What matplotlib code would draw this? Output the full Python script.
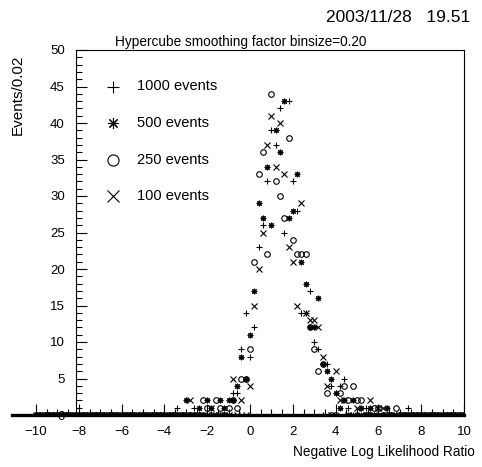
import numpy as np
import matplotlib.pyplot as plt
from matplotlib.ticker import MultipleLocator, FixedLocator

plt.rcParams['font.family'] = ['Liberation Sans', 'DejaVu Sans']

# histogram binning: binsize 0.2 between -10 and 10
bin_centres = np.round(np.arange(-50, 51) * 0.2, 1)

# non-empty bins (everything else is 0)
x_1000 = [-3.4, -2.6, -0.8, -0.6, -0.4, -0.2, 0.0, 0.2, 0.4, 0.6,
          0.8, 1.0, 1.2, 1.4, 1.6, 1.8, 2.0, 2.2, 2.4, 2.6,
          2.8, 3.0, 3.2, 3.6, 3.8, 4.0, 4.2, 4.4, 4.6, 5.4, 7.4]
y_1000 = [1, 1, 3, 3, 9, 14, 8, 12, 23, 26,
          32, 39, 37, 42, 25, 43, 32, 28, 14, 14,
          17, 10, 9, 7, 4, 3, 4, 5, 1, 1, 1]

x_500 = [-3.0, -2.4, -2.0, -1.8, -1.4, -1.2, -1.0, -0.8, -0.6, -0.4,
         -0.2, 0.0, 0.2, 0.4, 0.6, 0.8, 1.0, 1.2, 1.4, 1.6,
         1.8, 2.0, 2.2, 2.4, 2.6, 2.8, 3.0, 3.2, 3.4, 3.6,
         3.8, 4.0, 4.2, 4.4, 4.8, 5.2, 5.6, 6.4]
y_500 = [2, 1, 2, 1, 2, 1, 2, 2, 4, 8,
         5, 11, 17, 29, 27, 34, 26, 39, 36, 43,
         27, 28, 33, 21, 18, 12, 12, 16, 7, 6,
         5, 3, 1, 2, 2, 1, 1, 1]

x_250 = [-2.2, -2.0, -1.6, -1.4, -1.0, -0.8, -0.6, -0.4, -0.2, 0.0,
         0.2, 0.4, 0.6, 0.8, 1.0, 1.2, 1.4, 1.6, 1.8, 2.0,
         2.2, 2.4, 2.6, 2.8, 3.0, 3.2, 3.4, 3.6, 4.2, 4.4,
         4.6, 4.8, 5.0, 5.2, 5.8, 6.0, 6.8]
y_250 = [2, 1, 2, 1, 1, 2, 1, 5, 5, 9,
         21, 33, 36, 22, 44, 32, 30, 27, 38, 24,
         22, 22, 22, 12, 9, 6, 7, 3, 3, 4,
         2, 4, 2, 2, 1, 1, 1]

x_100 = [-2.8, -1.8, -0.8, -0.4, 0.0, 0.2, 0.4, 0.6, 0.8, 1.0,
         1.2, 1.4, 1.6, 1.8, 2.0, 2.2, 2.4, 2.6, 2.8, 3.0,
         3.2, 3.4, 3.6, 4.0, 4.2, 4.4, 5.0, 5.6, 6.0, 6.2]
y_100 = [2, 1, 5, 2, 4, 15, 20, 25, 37, 41,
         34, 40, 33, 23, 21, 15, 29, 14, 13, 13,
         12, 8, 4, 6, 2, 2, 1, 2, 1, 1]

labels = ['1000 events', '500 events', '250 events', '100 events']
markers = ['+', (8, 2, 0), 'o', 'x']


def fill_bins(xs, ys):
    counts = dict(zip(np.round(xs, 1), ys))
    return np.array([counts.get(b, 0) for b in bin_centres])


series = [fill_bins(x_1000, y_1000), fill_bins(x_500, y_500),
          fill_bins(x_250, y_250), fill_bins(x_100, y_100)]

W, H = 482, 467
PX_PER_UNIT = 21.4
fig = plt.figure(figsize=(W / 100, H / 100), dpi=100)

# x axis drawn below the frame, over the full -10..10 range
axb = fig.add_axes([12 / W, 52 / H, 452 / W, 365 / H])
axb.set_xlim(10 - 452 / PX_PER_UNIT, 10)
axb.set_ylim(0, 50)
axb.patch.set_visible(False)
for s in ['left', 'top', 'right']:
    axb.spines[s].set_visible(False)
axb.spines['bottom'].set_linewidth(2.4)
axb.set_yticks([])
axb.xaxis.set_major_locator(FixedLocator(np.arange(-10, 11, 2)))
axb.xaxis.set_minor_locator(FixedLocator(np.arange(-10, 10.1, 0.5)))
axb.tick_params(axis='x', which='major', direction='in', length=8, width=0.8,
                labelsize=9.5, pad=8)
axb.tick_params(axis='x', which='minor', direction='in', length=4, width=0.8)

# frame with the data
ax = fig.add_axes([76 / W, 52 / H, 388 / W, 365 / H])
ax.set_xlim(10 - 388 / PX_PER_UNIT, 10)
ax.set_ylim(0, 50)
ax.patch.set_visible(False)
ax.set_xticks([])
ax.yaxis.set_major_locator(MultipleLocator(5))
ax.yaxis.set_minor_locator(MultipleLocator(1))
ax.tick_params(axis='y', which='major', direction='in', length=8, width=0.8,
               labelsize=9.5, pad=8)
ax.tick_params(axis='y', which='minor', direction='in', length=4, width=0.8)
for s in ax.spines.values():
    s.set_linewidth(0.8)
ax.spines['bottom'].set_visible(False)

for counts, mk in zip(series, markers):
    # empty bins sit on the baseline, only their upper half shows
    axb.plot(bin_centres, counts, linestyle='none', marker=mk, markersize=4,
             markeredgewidth=0.8, color='black', markerfacecolor='none',
             clip_on=True)

# legend
for i, (lab, mk) in enumerate(zip(labels, markers)):
    yl = 45 - 5 * i
    ax.plot([-6.4], [yl], marker=mk, markersize=8, markeredgewidth=0.8,
            color='black', markerfacecolor='none', linestyle='none')
    ax.text(-5.3, yl, lab, fontsize=10.5, va='center', ha='left')

fig.text(470 / W, 1 - 18 / H, '2003/11/28   19.51', ha='right', va='center',
         fontsize=12.5)
fig.text(241 / W, 1 - 42 / H, 'Hypercube smoothing factor binsize=0.20',
         ha='center', va='center', fontsize=9.8)
fig.text(18 / W, 1 - 55 / H, 'Events/0.02', rotation=90, ha='center',
         va='top', fontsize=11)
fig.text(475 / W, 1 - 452 / H, 'Negative Log Likelihood Ratio', ha='right',
         va='center', fontsize=9.8)

fig.savefig('out.png', dpi=100)
